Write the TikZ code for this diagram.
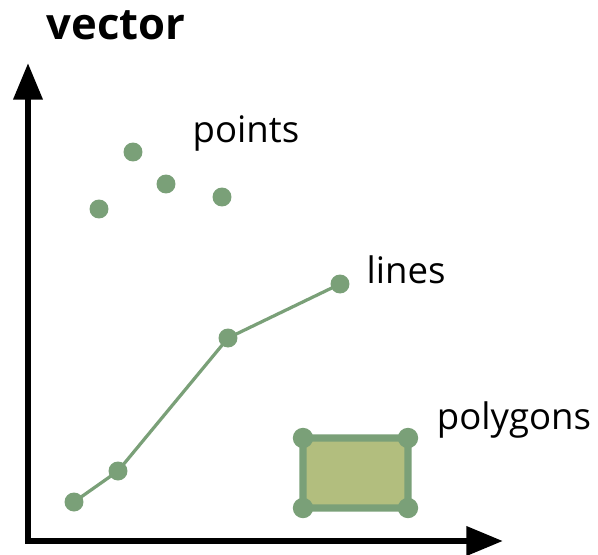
\documentclass[tikz,border=0pt]{standalone}
\usepackage{fontspec}
\setmainfont{Open Sans}
\usetikzlibrary{arrows.meta,positioning,calc}
\definecolor{vgreen}{RGB}{122,160,120}
\definecolor{vfill}{RGB}{178,190,126}

\begin{document}
\begin{tikzpicture}[x=0.025cm, y=-0.025cm, font=\fontsize{26}{30}\selectfont,
  axis/.style={line width=4.5pt, -{Triangle[length=26pt, width=20pt]}},
  pt/.style={circle, fill=vgreen, minimum size=13.5pt, inner sep=0pt},
  vtx/.style={circle, fill=vgreen, minimum size=14.5pt, inner sep=0pt},
  lbl/.style={inner sep=0pt, anchor=center}]
\useasboundingbox (0,0) rectangle (598,554);
% axes
\coordinate (orig) at (28,541);
\coordinate (ytop) at (28,63);
\coordinate (xend) at (503,541);
\draw[axis] ($(orig)+(0,2)$) -- (ytop);
\draw[axis] ($(orig)+(-3,0)$) -- (xend);
\node[lbl, font=\fontsize{31}{36}\selectfont\bfseries] (title) at (116,25) {vector};
% points
\node[pt] (p1) at (133,152) {};
\node[pt] (p2) at (166,184) {};
\node[pt] (p3) at (99,209) {};
\node[pt] (p4) at (222,197) {};
\node[lbl] (plbl) at (246,133) {points};
% lines
\node[pt] (l1) at (74,502) {};
\node[pt] (l2) at (118,471) {};
\node[pt] (l3) at (228,338) {};
\node[pt] (l4) at (340,284) {};
\draw[vgreen, line width=2.3pt] (l1.center) -- (l2.center) -- (l3.center) -- (l4.center);
\node[lbl] (llbl) at (406,270) {lines};
% polygons
\coordinate (q1) at (303,438);
\coordinate (q2) at (408,438);
\coordinate (q3) at (408,508);
\coordinate (q4) at (303,508);
\draw[vgreen, fill=vfill, line width=5pt, rounded corners=2pt] (q1) -- (q2) -- (q3) -- (q4) -- cycle;
\foreach \q in {q1,q2,q3,q4} \node[vtx] at (\q) {};
\node[lbl] (glbl) at (514,420) {polygons};
\end{tikzpicture}
\end{document}
